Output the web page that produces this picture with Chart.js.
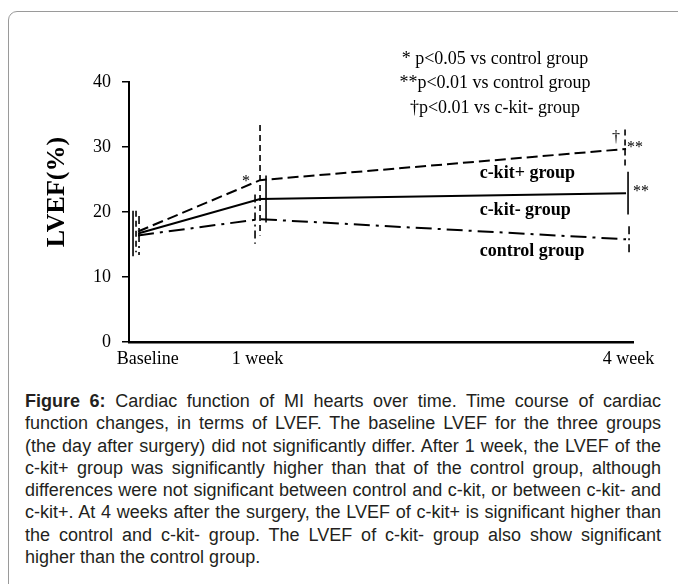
<!DOCTYPE html>
<html>
<head>
<meta charset="utf-8">
<script src="https://cdn.jsdelivr.net/npm/chart.js@4.4.1/dist/chart.umd.min.js"></script>
<style>
  html, body { margin: 0; padding: 0; background: #fff; }
  body { width: 678px; height: 584px; position: relative; overflow: hidden; }
  #frame {
    position: absolute; left: 8px; top: 11px; width: 720px; height: 620px;
    border: 1px solid #9a9a9a; border-top-left-radius: 9px; box-sizing: border-box;
  }
  #wrap { position: absolute; left: 0; top: 0; width: 678px; height: 385px; }
  #caption {
    position: absolute; left: 25px; top: 390px; width: 636px;
    font: 18px "Liberation Sans", Arial, sans-serif; line-height: 22.3px;
    text-align: justify; color: #231f20;
  }
</style>
</head>
<body>
<div id="frame"></div>
<div id="wrap"><canvas id="lvefChart"></canvas></div>
<div id="caption"><b>Figure 6:</b> Cardiac function of MI hearts over time. Time course of cardiac function changes, in terms of LVEF. The baseline LVEF for the three groups (the day after surgery) did not significantly differ. After 1 week, the LVEF of the c-kit+ group was significantly higher than that of the control group, although differences were not significant between control and c-kit, or between c-kit- and c-kit+. At 4 weeks after the surgery, the LVEF of c-kit+ is significant higher than the control and c-kit- group. The LVEF of c-kit- group also show significant higher than the control group.</div>
<script>
// time points (weeks after surgery) and their labels
const timeLabels = ['Baseline', '1 week', '4 week'];
const weeks = [0, 1, 4];
const labelWeeks = [0.08, 0.98, 4.02];

// LVEF (%) mean and SD per group
const ckitPos = [17.0, 24.9, 29.7];
const ckitPosSd = [3.2, 8.5, 3.0];
const ckitNeg = [16.7, 22.0, 22.9];
const ckitNegSd = [3.5, 3.6, 3.3];
const control = [16.4, 18.9, 15.8];
const controlSd = [3.0, 3.8, 2.0];

const seriesNames = ['c-kit+ group', 'c-kit- group', 'control group'];
const legendLines = ['* p<0.05 vs control group', '**p<0.01 vs control group', '\u2020p<0.01 vs c-kit- group'];

const serif = '"Liberation Serif", "Times New Roman", serif';

const toPoints = vals => vals.map((v, i) => ({ x: weeks[i], y: v }));

// vertical error bars, drawn in the same dash style as their line
const errorBars = {
  id: 'errorBars',
  afterDatasetsDraw(chart) {
    const { ctx, scales: { x, y } } = chart;
    chart.data.datasets.forEach(ds => {
      ctx.save();
      ctx.strokeStyle = '#000';
      ctx.lineWidth = 1.6;
      ctx.setLineDash(ds.errDash);
      ds.sd.forEach((sd, j) => {
        const px = x.getPixelForValue(weeks[j]) + ds.errShift[j];
        const m = ds.data[j].y;
        ctx.beginPath();
        ctx.moveTo(px, y.getPixelForValue(m + sd));
        ctx.lineTo(px, y.getPixelForValue(m - sd));
        ctx.stroke();
      });
      ctx.restore();
    });
  }
};

// axis title, significance legend, series names and marks
const textLayer = {
  id: 'textLayer',
  afterDraw(chart) {
    const { ctx, scales: { x, y } } = chart;
    ctx.save();
    ctx.fillStyle = '#000';

    ctx.save();
    ctx.translate(57, 192);
    ctx.rotate(-Math.PI / 2);
    ctx.font = 'bold 26px ' + serif;
    ctx.textAlign = 'center';
    ctx.textBaseline = 'middle';
    ctx.fillText('LVEF(%)', 0, 0);
    ctx.restore();

    ctx.font = '18px ' + serif;
    ctx.textAlign = 'center';
    ctx.textBaseline = 'middle';
    legendLines.forEach((t, i) => ctx.fillText(t, 495, 59 + i * 24.5));

    ctx.font = 'bold 18px ' + serif;
    ctx.textAlign = 'left';
    const nameAt = [26.0, 20.2, 13.9];
    seriesNames.forEach((t, i) => ctx.fillText(t, x.getPixelForValue(2.8), y.getPixelForValue(nameAt[i])));

    ctx.font = '16px ' + serif;
    ctx.textAlign = 'center';
    const marks = [
      { ds: 0, pt: 1, text: '*', dx: -14, dy: 2 },
      { ds: 0, pt: 2, text: '\u2020', dx: -10, dy: -11 },
      { ds: 0, pt: 2, text: '**', dx: 9, dy: -1 },
      { ds: 1, pt: 2, text: '**', dx: 15, dy: -1 }
    ];
    marks.forEach(m => {
      const p = chart.data.datasets[m.ds].data[m.pt];
      ctx.fillText(m.text, x.getPixelForValue(p.x) + m.dx, y.getPixelForValue(p.y) + m.dy);
    });
    ctx.restore();
  }
};

new Chart(document.getElementById('lvefChart'), {
  type: 'line',
  data: {
    datasets: [
      {
        label: seriesNames[0], data: toPoints(ckitPos), sd: ckitPosSd,
        borderColor: '#000', borderWidth: 2, borderDash: [11, 5],
        errDash: [6, 4], errShift: [-2, 0, -1]
      },
      {
        label: seriesNames[1], data: toPoints(ckitNeg), sd: ckitNegSd,
        borderColor: '#000', borderWidth: 2, borderDash: [],
        errDash: [], errShift: [-5, 6, 2]
      },
      {
        label: seriesNames[2], data: toPoints(control), sd: controlSd,
        borderColor: '#000', borderWidth: 2, borderDash: [16, 6, 3, 6],
        errDash: [8, 4, 2, 4], errShift: [1, -5, 3]
      }
    ]
  },
  options: {
    responsive: true,
    maintainAspectRatio: false,
    animation: false,
    layout: { padding: { left: 9, right: 45, top: 82, bottom: 3 } },
    elements: { point: { radius: 0 }, line: { tension: 0 } },
    plugins: { legend: { display: false }, tooltip: { enabled: false } },
    scales: {
      x: {
        type: 'linear',
        min: -0.074,
        max: 4.057,
        afterFit: s => { s.height = 40; },
        afterBuildTicks: s => { s.ticks = labelWeeks.map(v => ({ value: v })); },
        grid: { display: false, drawTicks: false },
        border: { display: true, color: '#000', width: 2.5 },
        ticks: {
          autoSkip: false, maxRotation: 0, padding: 6, color: '#000',
          font: { family: serif, size: 18 },
          callback: (v, i) => timeLabels[i]
        }
      },
      y: {
        min: 0,
        max: 40,
        afterFit: s => { s.width = 120; },
        grid: { drawOnChartArea: false, drawTicks: true, tickLength: 7, color: '#000', lineWidth: 1.5 },
        border: { display: true, color: '#000', width: 2 },
        ticks: { stepSize: 10, padding: 11, color: '#000', font: { family: serif, size: 18 } }
      }
    }
  },
  plugins: [errorBars, textLayer]
});
</script>
</body>
</html>
